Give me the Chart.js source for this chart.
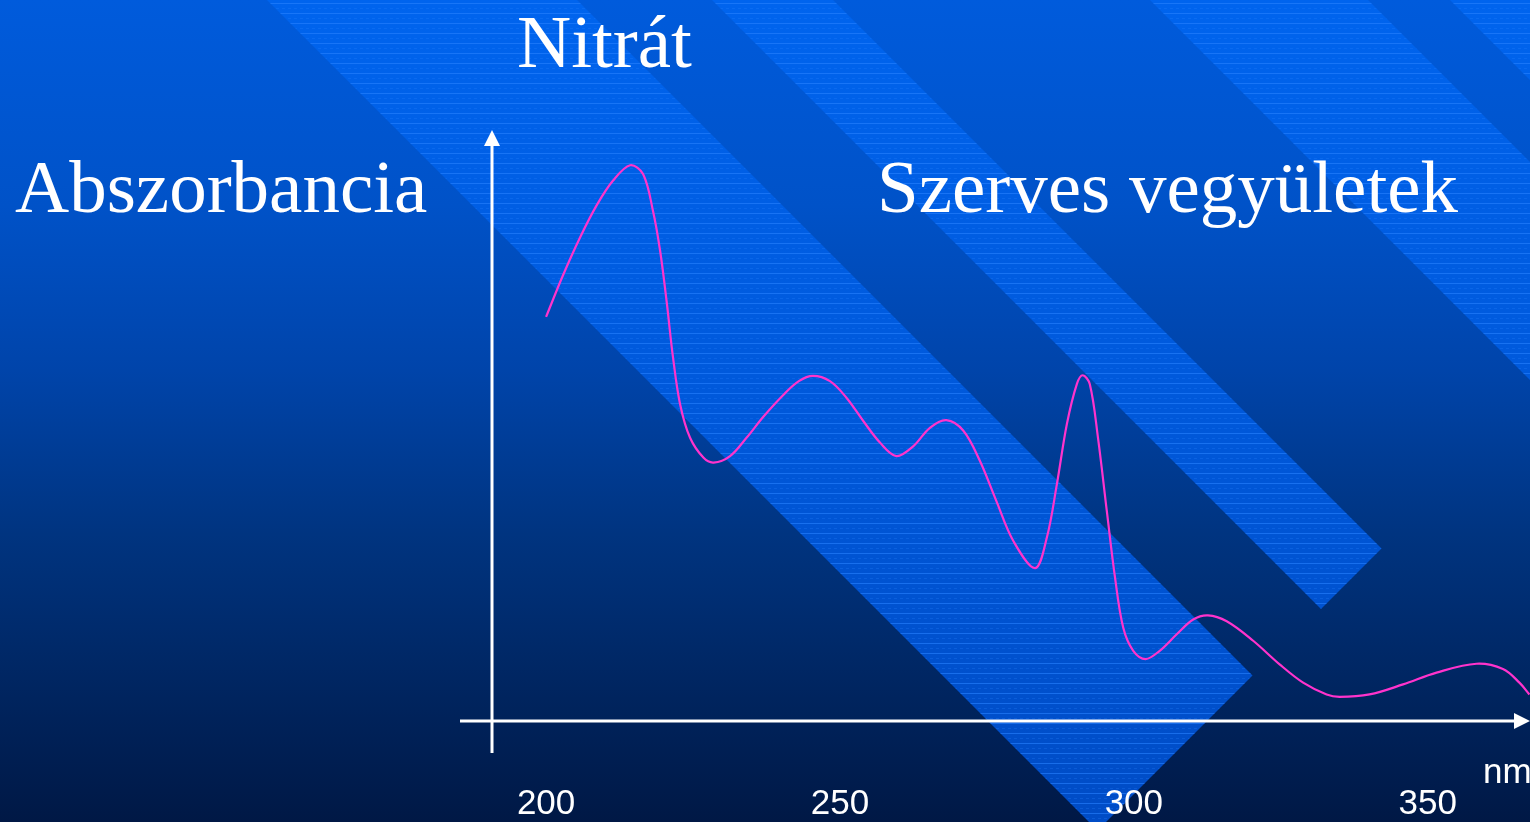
<!DOCTYPE html>
<html>
<head>
<meta charset="utf-8">
<script src="https://cdn.jsdelivr.net/npm/chart.js@4.4.1/dist/chart.umd.min.js"></script>
<style>
  html, body { margin: 0; padding: 0; background: #001845; overflow: hidden; }
  #c { display: block; }
</style>
</head>
<body>
<canvas id="c" width="1530" height="822"></canvas>
<script>
// ---- data ----
const wavelengths = [200, 202.9, 205.8, 208.6, 211.4, 214.3, 216.5, 218.2, 219.4, 220.5, 221.6, 222.8, 224.5, 226.8, 228.5,
  231.3, 234.1, 237.0, 240.4, 243.0, 245.4, 248.3, 251.1, 254.0, 256.8, 259.6, 262.5, 265.3, 268.1, 271.0, 273.8, 276.6, 279.5,
  283.2, 285.2, 286.9, 288.6, 290.3, 291.3, 292.5, 293.9, 295.4, 296.8, 298.2, 299.9, 302.0, 304.4, 307.3, 310.1, 312.6,
  315.8, 320.3, 324.8, 328.8, 332.8, 335.0, 340.1, 345.8, 351.5, 358.3, 362.8, 365.6, 367.3];
const absorbance = [68.5, 75.6, 82.0, 87.4, 91.6, 94.2, 92.7, 86.4, 79.7, 71.2, 61.6, 53.7, 48.0, 44.6, 43.8,
  44.9, 48.0, 51.6, 55.3, 57.6, 58.5, 57.6, 54.8, 50.8, 47.2, 44.9, 46.6, 49.7, 51.0, 49.2, 44.1, 37.3, 30.5,
  25.9, 31.1, 40.1, 50.3, 57.1, 58.6, 57.1, 48.0, 35.6, 24.3, 15.8, 11.9, 10.5, 11.9, 14.7, 17.2, 17.9,
  16.9, 13.6, 9.6, 6.5, 4.5, 4.1, 4.5, 6.2, 8.2, 9.7, 8.8, 6.5, 4.5];
const xTickValues = [200, 250, 300, 350];
const titleText = 'Nitrát';
const yAxisText = 'Abszorbancia';
const organicText = 'Szerves vegyületek';
const unitText = 'nm';

// ---- slide background (gradient + diagonal striped bands) ----
const backgroundPlugin = {
  id: 'slideBackground',
  beforeDraw(chart) {
    const ctx = chart.ctx, W = chart.width, H = chart.height;
    ctx.save();
    const g = ctx.createLinearGradient(0, 0, 0, H);
    g.addColorStop(0, '#005bdc');
    g.addColorStop(0.25, '#0052c8');
    g.addColorStop(0.45, '#0044aa');
    g.addColorStop(0.65, '#003480');
    g.addColorStop(0.85, '#00245e');
    g.addColorStop(1, '#001845');
    ctx.fillStyle = g;
    ctx.fillRect(0, 0, W, H);

    const bands = [[267, 577, 1928], [712, 833, 1930], [1150, 1368, 1930], [1450, 1800, 2400]];
    const sg = ctx.createLinearGradient(0, 0, 0, H);
    sg.addColorStop(0, '#0064ee');
    sg.addColorStop(0.5, '#0058da');
    sg.addColorStop(1, '#004cc6');
    bands.forEach(([a, b, c]) => {
      ctx.save();
      ctx.beginPath();
      ctx.moveTo(a, 0);
      ctx.lineTo(b, 0);
      ctx.lineTo((b + c) / 2, (c - b) / 2);
      ctx.lineTo((a + c) / 2, (c - a) / 2);
      ctx.closePath();
      ctx.fillStyle = sg;
      ctx.fill();
      ctx.clip();
      ctx.lineWidth = 1;
      for (let y = 3.5; y < H; y += 10) {
        ctx.strokeStyle = 'rgba(40,130,255,0.6)';
        ctx.beginPath(); ctx.moveTo(0, y); ctx.lineTo(W, y); ctx.stroke();
        ctx.strokeStyle = 'rgba(40,130,255,0.25)';
        ctx.setLineDash([3, 3]);
        ctx.beginPath(); ctx.moveTo(0, y + 5); ctx.lineTo(W, y + 5); ctx.stroke();
        ctx.setLineDash([]);
      }
      ctx.restore();
    });
    ctx.restore();
  }
};

// ---- arrowed axes drawn from the scales ----
const axesPlugin = {
  id: 'arrowAxes',
  beforeDatasetsDraw(chart) {
    const ctx = chart.ctx, a = chart.chartArea;
    const ys = chart.scales.y;
    const y0 = ys.getPixelForValue(0);
    const xL = a.left;
    ctx.save();
    ctx.strokeStyle = '#ffffff';
    ctx.fillStyle = '#ffffff';
    ctx.lineWidth = 3;
    ctx.beginPath();
    ctx.moveTo(xL, y0 + 32);
    ctx.lineTo(xL, a.top + 14);
    ctx.stroke();
    ctx.beginPath();
    ctx.moveTo(xL, a.top - 1);
    ctx.lineTo(xL - 8, a.top + 15);
    ctx.lineTo(xL + 8, a.top + 15);
    ctx.closePath();
    ctx.fill();
    ctx.beginPath();
    ctx.moveTo(xL - 32, y0);
    ctx.lineTo(a.right - 14, y0);
    ctx.stroke();
    ctx.beginPath();
    ctx.moveTo(a.right, y0);
    ctx.lineTo(a.right - 16, y0 - 8);
    ctx.lineTo(a.right - 16, y0 + 8);
    ctx.closePath();
    ctx.fill();
    ctx.restore();
  }
};

// ---- slide texts ----
const textPlugin = {
  id: 'slideTexts',
  afterDraw(chart) {
    const ctx = chart.ctx;
    ctx.save();
    ctx.fillStyle = '#ffffff';
    ctx.textBaseline = 'alphabetic';
    ctx.textAlign = 'left';
    ctx.font = '75px "Liberation Serif", "Times New Roman", serif';
    ctx.fillText(titleText, 517, 67);
    ctx.fillText(yAxisText, 15, 212);
    ctx.fillText(organicText, 877, 212);
    ctx.font = '35px "Liberation Sans", Arial, sans-serif';
    ctx.fillText(unitText, 1483, 783);
    ctx.restore();
  }
};

new Chart(document.getElementById('c'), {
  type: 'line',
  data: {
    datasets: [{
      data: wavelengths.map((x, i) => ({ x: x, y: absorbance[i] })),
      borderColor: '#ff33cc',
      borderWidth: 2.2,
      pointRadius: 0,
      fill: false,
      tension: 0.35
    }]
  },
  options: {
    responsive: false,
    animation: false,
    devicePixelRatio: 1,
    layout: { padding: { top: 131, left: 492, right: 0, bottom: 0 } },
    plugins: { legend: { display: false }, tooltip: { enabled: false }, title: { display: false } },
    scales: {
      x: {
        type: 'linear',
        min: 190.8,
        max: 367.4,
        grid: { display: false, drawTicks: false },
        border: { display: false },
        afterBuildTicks(scale) { scale.ticks = xTickValues.map(v => ({ value: v })); },
        afterFit(scale) { scale.height = 101; },
        ticks: {
          color: '#ffffff',
          padding: 62,
          maxRotation: 0,
          autoSkip: false,
          font: { family: '"Liberation Sans", Arial, sans-serif', size: 35, lineHeight: 1.2 },
          callback: v => String(v)
        }
      },
      y: {
        display: false,
        min: 0,
        max: 100
      }
    }
  },
  plugins: [backgroundPlugin, axesPlugin, textPlugin]
});
</script>
</body>
</html>
